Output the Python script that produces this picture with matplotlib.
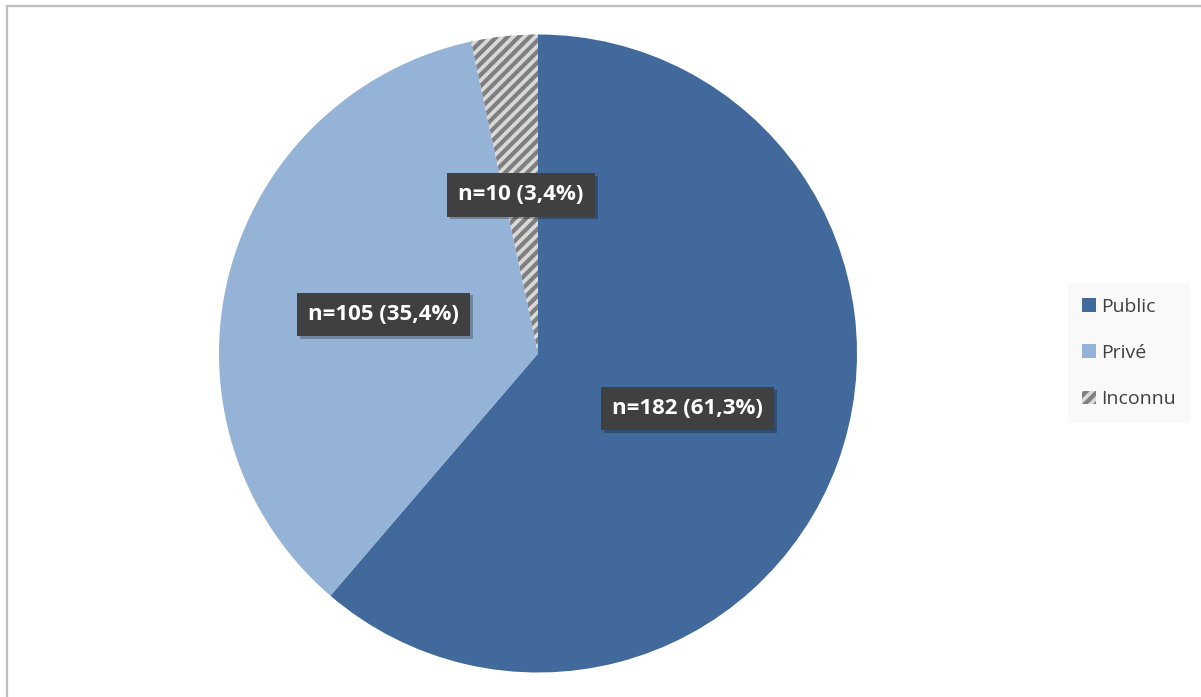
import matplotlib as mpl
import matplotlib.pyplot as plt
import matplotlib.patheffects as pe
import numpy as np
from matplotlib.lines import Line2D

mpl.rcParams["font.family"] = ["Open Sans", "DejaVu Sans"]
mpl.rcParams["hatch.linewidth"] = 3.0
mpl.rcParams["hatch.color"] = "#7F7F7F"

# ── data ─────────────────────────────────────────────
categories = ["Public", "Privé", "Inconnu"]
counts = [182, 105, 10]
pct_labels = ["61,3%", "35,4%", "3,4%"]

colors = ["#41699B", "#95B3D7", "#D9D9D9"]
hatches = [None, None, "///"]

W, H = 1201, 697
fig = plt.figure(figsize=(W / 100, H / 100), dpi=100)
fig.patch.set_facecolor("white")

# chart border (top and left edges visible)
fig.add_artist(Line2D([7 / W, 7 / W], [0, 1 - 5.5 / H], color="#BFBFBF", linewidth=1.6))
fig.add_artist(Line2D([7 / W, 1], [1 - 5.5 / H, 1 - 5.5 / H], color="#BFBFBF", linewidth=1.6))

# pie axes: centre (538, 353.5) px, radius 319 px
cx, cy, r = 538, 353.5, 319
ax = fig.add_axes([(cx - r) / W, (H - cy - r) / H, 2 * r / W, 2 * r / H])
wedges, _ = ax.pie(counts, colors=colors, startangle=90, counterclock=False,
                   wedgeprops=dict(linewidth=0))
for w, h in zip(wedges, hatches):
    if h:
        w.set_hatch(h)
        w.set_edgecolor("#7F7F7F")
        w.set_linewidth(0)
ax.set_xlim(-1, 1)
ax.set_ylim(-1, 1)
ax.set_aspect("equal")
ax.axis("off")

# data labels
for w, n, p in zip(wedges, counts, pct_labels):
    ang = np.deg2rad((w.theta1 + w.theta2) / 2)
    x, y = 0.5 * np.cos(ang), 0.5 * np.sin(ang)
    t = ax.text(x, y, f"n={n} ({p})", ha="center", va="center",
                fontsize=16, fontweight="bold", color="white",
                bbox=dict(boxstyle="square,pad=0.5", facecolor="#404040",
                          edgecolor="none"))
    t.get_bbox_patch().set_path_effects([
        pe.SimplePatchShadow(offset=(2, -2), alpha=0.25, shadow_rgbFace="black"),
        pe.Normal()])

# legend
leg = fig.legend(wedges, categories, loc="center left",
                 bbox_to_anchor=(1058 / W, 1 - 353 / H), frameon=True,
                 facecolor="#F8F8F8", edgecolor="none", fancybox=False,
                 fontsize=14, handlelength=0.7, handleheight=0.7,
                 handletextpad=0.25, labelspacing=1.45, borderpad=0.75)
for txt in leg.get_texts():
    txt.set_color("#404040")

fig.savefig("out.png", dpi=100)
